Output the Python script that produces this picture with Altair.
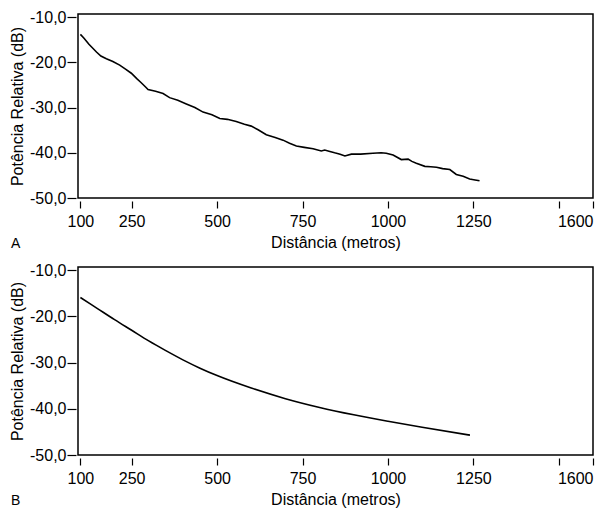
import altair as alt
import pandas as pd

# Panel A: measured relative power (noisy)
dist_a = [100, 110, 125, 147, 160, 176, 195, 215, 232, 249, 265, 278, 290, 298, 320,
          342, 361, 385, 410, 435, 459, 485, 508, 530, 556, 580, 600, 620, 644, 670,
          693, 712, 732, 755, 781, 805, 815, 830, 844, 860, 874, 893, 920, 956, 980,
          995, 1015, 1039, 1059, 1070, 1083, 1108, 1125, 1142, 1160, 1181, 1200, 1220,
          1239, 1255, 1268]
pot_a = [-13.8, -14.6, -16.0, -17.7, -18.6, -19.2, -19.8, -20.6, -21.5, -22.4, -23.6,
         -24.5, -25.4, -26.0, -26.4, -26.9, -27.8, -28.4, -29.2, -30.0, -31.0, -31.6,
         -32.4, -32.6, -33.1, -33.7, -34.1, -34.9, -36.0, -36.6, -37.2, -37.9, -38.5,
         -38.8, -39.1, -39.6, -39.4, -39.7, -40.0, -40.3, -40.7, -40.3, -40.3, -40.1,
         -40.0, -40.1, -40.5, -41.5, -41.4, -41.9, -42.3, -43.0, -43.1, -43.2, -43.5,
         -43.7, -44.8, -45.2, -45.8, -46.0, -46.2]

# Panel B: model curve (smooth)
dist_b = [100, 150, 200, 250, 300, 350, 400, 450, 500, 600, 700, 800, 900, 1000, 1100, 1240]
pot_b = [-15.9, -18.3, -20.7, -23.0, -25.3, -27.4, -29.4, -31.2, -32.8, -35.5, -37.8,
         -39.7, -41.3, -42.7, -44.0, -45.7]

x_ticks = [100, 250, 500, 750, 1000, 1250, 1500, 1600]
y_ticks = [-50, -40, -30, -20, -10]
panel_labels = ["A", "B"]

FONT = "Liberation Sans"
W = 515

def panel(dist, pot, label, interp, h):
    df = pd.DataFrame({"d": dist, "p": pot})
    x = alt.X("d:Q", scale=alt.Scale(domain=[93, 1600], nice=False, zero=False),
              axis=alt.Axis(values=x_ticks, title="Distância (metros)",
                            labelExpr="datum.value == 1500 ? '' : datum.value",
                            domain=False, grid=False, offset=3, tickSize=7,
                            labelPadding=5, titlePadding=5))
    y = alt.Y("p:Q", scale=alt.Scale(domain=[-50, -9.3], nice=False, zero=False),
              axis=alt.Axis(values=y_ticks, title="Potência Relativa (dB)",
                            labelExpr="replace('-' + format(abs(datum.value), '.1f'), '.', ',')",
                            domain=False, grid=False, offset=2, tickSize=9,
                            labelPadding=1, titlePadding=4))
    line = alt.Chart(df).mark_line(color="black", strokeWidth=1.6,
                                   interpolate=interp).encode(x=x, y=y)
    lab = alt.Chart(pd.DataFrame({"t": [label]})).mark_text(
        font=FONT, fontSize=14, color="black", align="left", baseline="middle"
    ).encode(text="t:N", x=alt.value(-67), y=alt.value(h + 46))
    return alt.layer(line, lab).properties(width=W, height=h)

top = panel(dist_a, pot_a, panel_labels[0], "linear", 184)
bot = panel(dist_b, pot_b, panel_labels[1], "monotone", 188)

chart = alt.vconcat(top, bot, spacing=9).properties(padding=0).configure_view(
    stroke="black", strokeWidth=1.5
).configure_axis(
    labelFont=FONT, titleFont=FONT, labelFontSize=16, titleFontSize=16,
    labelColor="black", titleColor="black", titleFontWeight="normal",
    tickColor="black", tickWidth=1.2
)

chart.save("out.html", embed_options={"renderer": "svg", "actions": False})
